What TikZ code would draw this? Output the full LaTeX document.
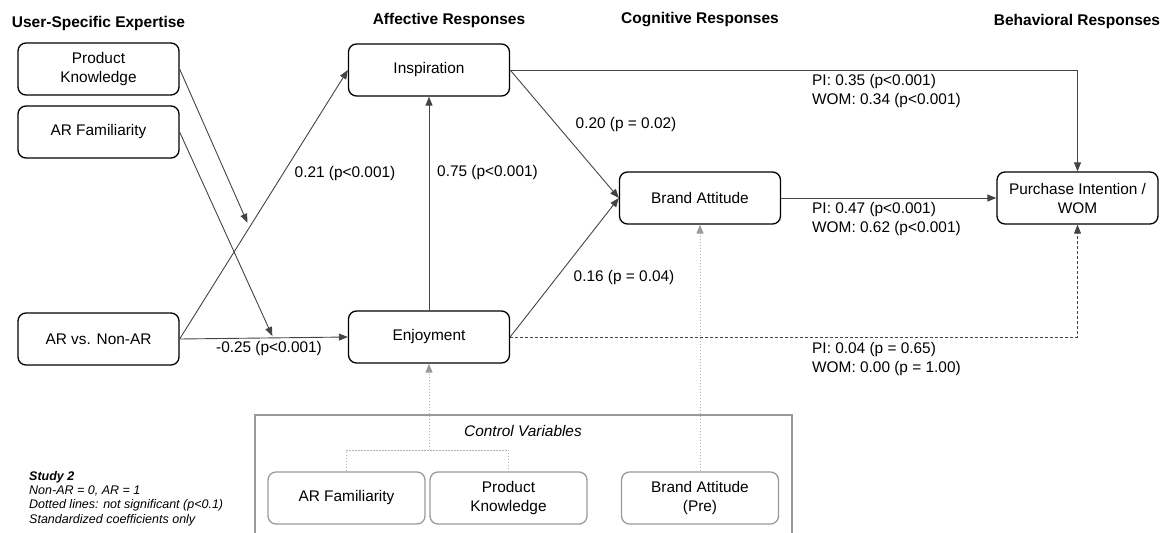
\documentclass[tikz,border=0pt]{standalone}
\usepackage{fontspec}
\setmainfont{Liberation Sans}
\usetikzlibrary{arrows.meta,positioning}

\definecolor{lineclr}{HTML}{444444}
\definecolor{ctrlgray}{HTML}{9A9A9A}
\definecolor{dotgray}{HTML}{B4B4B4}

\tikzset{
  var/.style={draw, line width=1.3pt, rounded corners=8pt, minimum width=161pt,
    minimum height=52pt, align=center, inner sep=2pt,
    font=\fontsize{15.4}{19}\selectfont},
  ctrlvar/.style={var, draw=ctrlgray, minimum width=157pt},
  head/.style={font=\fontsize{15.5}{18}\selectfont\bfseries},
  coef/.style={inner sep=0pt, align=left, font=\fontsize{15.4}{19}\selectfont},
  conn/.style={draw=lineclr, line width=0.9pt, -{Triangle[length=9pt,width=7pt]}},
  nsconn/.style={conn, dash pattern=on 3pt off 2pt},
  ctrlline/.style={draw=dotgray, line width=0.9pt, dash pattern=on 1.5pt off 1.5pt},
  ctrlarrow/.style={ctrlline, -{Triangle[length=9pt,width=7pt,color=ctrlgray]}},
}

\begin{document}
\begin{tikzpicture}[x=1pt, y=-1pt]
    \useasboundingbox (0,0) rectangle (1168,533);

    %% column headings
    \node[head] (hexp) at (98.5,23) {User-Specific Expertise};
    \node[head] (haff) at (449,20) {Affective Responses};
    \node[head] (hcog) at (700,20) {Cognitive Responses};
    \node[head] (hbeh) at (1077,21) {Behavioral Responses};

    %% variables
    \node[var] (pk) at (98.5,69) {Product\\Knowledge};
    \node[var] (afam) at (98.5,132) {AR Familiarity};
    \node[var] (arx) at (98.5,339) {AR vs. Non-AR};
    \node[var] (insp) at (429,70) {Inspiration};
    \node[var] (enj) at (429,337) {Enjoyment};
    \node[var] (brand) at (700,198) {Brand Attitude};
    \node[var] (pi) at (1077.5,198) {Purchase Intention /\\WOM};

    %% control variables
    \draw[ctrlgray, line width=1.3pt] (255,540) |- (792,415) -- (792,540);
    \node[font=\fontsize{15.4}{19}\selectfont\itshape] (ctitle) at (523,431) {Control Variables};
    \node[ctrlvar] (cfam) at (346.5,498) {AR Familiarity};
    \node[ctrlvar] (cpk) at (508.5,498) {Product\\Knowledge};
    \node[ctrlvar] (cba) at (700,498) {Brand Attitude\\(Pre)};
    \coordinate (brk) at (429,450);

    %% main paths
    \draw[conn] (arx.east) -- (insp.west);
    \draw[conn] (arx.east) -- (enj.west);
    \draw[conn] (enj.north) -- (insp.south);
    \draw[conn] (insp.east) -- (brand.west);
    \draw[conn] (enj.east) -- (brand.west);
    \draw[conn] (brand.east) -- (pi.west);
    \draw[conn] (insp.east) -| (pi.north);
    \draw[nsconn] (enj.east) -| (pi.south);

    %% moderation
    \path (arx.east) -- (insp.west) coordinate[pos=0.415] (modinsp);
    \path (arx.east) -- (enj.west) coordinate[pos=0.556] (modenj);
    \draw[conn, shorten >=5pt] (pk.east) -- (modinsp);
    \draw[conn, shorten >=2pt] (afam.east) -- (modenj);

    %% controls
    \draw[ctrlline] (cfam.north) |- (brk) -| (cpk.north);
    \draw[ctrlarrow] (brk) -- (enj.south);
    \draw[ctrlarrow] (cba.north) -- (brand.south);

    %% coefficients
    \node[coef] (c1) at (345,174) {0.21 (p<0.001)};
    \node[coef, anchor=west] (c2) at (437,173) {0.75 (p<0.001)};
    \node[coef] (c3) at (269,349) {-0.25 (p<0.001)};
    \node[coef] (c4) at (626,125) {0.20 (p = 0.02)};
    \node[coef] (c5) at (624,278) {0.16 (p = 0.04)};
    \node[coef, anchor=west] (c6) at (812,91.5) {PI: 0.35 (p<0.001)\\WOM: 0.34 (p<0.001)};
    \node[coef, anchor=west] (c7) at (812,219.5) {PI: 0.47 (p<0.001)\\WOM: 0.62 (p<0.001)};
    \node[coef, anchor=west] (c8) at (812,359) {PI: 0.04 (p = 0.65)\\WOM: 0.00 (p = 1.00)};

    %% notes
    \node[inner sep=0pt, anchor=west, align=left, font=\fontsize{12.5}{14.3}\selectfont\itshape]
      (notes) at (29,498.5) {\textbf{Study 2}\\Non-AR = 0, AR = 1\\Dotted lines: not significant (p<0.1)\\Standardized coefficients only};
\end{tikzpicture}
\end{document}
